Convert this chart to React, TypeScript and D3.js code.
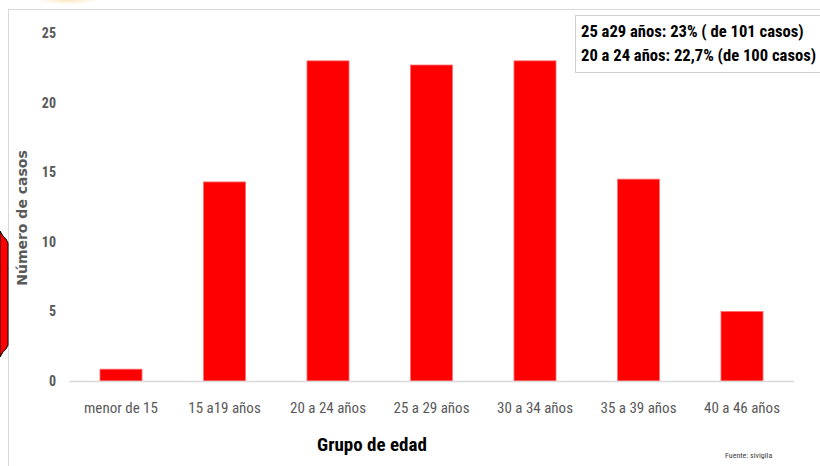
import React from "react";
import * as d3 from "d3";

const categories = ["menor de 15", "15 a19 años", "20 a 24 años", "25 a 29 años", "30 a 34 años", "35 a 39 años", "40 a 46 años"];
const values = [0.85, 14.3, 23, 22.7, 23, 14.5, 5];
const yTicks = [0, 5, 10, 15, 20, 25];
const noteLines = ["25 a29 años: 23% ( de 101 casos)", "20 a 24 años: 22,7% (de 100 casos)"];

const W = 820;
const H = 466;
const FONT = "'Liberation Sans Narrow', 'Roboto Condensed', 'Open Sans', sans-serif";

export default function App() {
  const x = d3.scaleBand<string>().domain(categories).range([69.25, 793.75]).paddingInner(0.594).paddingOuter(0.297);
  const y = d3.scaleLinear().domain([0, 25]).range([381, 33]);
  return (
    <svg width={W} height={H} style={{ position: "absolute", left: 0, top: 0, background: "#fff" }}>
      <defs>
        <radialGradient id="glow">
          <stop offset="0%" stopColor="#fbd38a" stopOpacity={0.9} />
          <stop offset="100%" stopColor="#fde9c0" stopOpacity={0} />
        </radialGradient>
      </defs>
      <ellipse cx={68} cy={-2} rx={34} ry={7} fill="url(#glow)" />
      {/* frame */}
      <line x1={8} x2={W} y1={9.5} y2={9.5} stroke="#d9d9d9" />
      <line x1={8.5} x2={8.5} y1={9} y2={H} stroke="#d9d9d9" />
      {/* left decoration */}
      <path d="M0,231 L3,236 L6,239 L8,243 L8,345 L6,349 L3,352 L0,357 Z" fill="#ff0000" stroke="#000" strokeWidth={1} />
      {/* y tick labels */}
      {yTicks.map((t) => (
        <text key={t} x={56} y={y(t)} dy="0.35em" textAnchor="end" fontFamily={FONT} fontWeight="bold" fontSize={14} fill="#595959">
          {t}
        </text>
      ))}
      {/* bars */}
      {categories.map((c, i) => (
        <rect key={c} x={x(c)} y={y(values[i])} width={x.bandwidth()} height={y(0) - y(values[i])} fill="#ff0000" stroke="#ff7070" strokeWidth={0.8} />
      ))}
      {/* axis line */}
      <line x1={69} x2={794} y1={381.5} y2={381.5} stroke="#d9d9d9" strokeWidth={1.5} />
      {/* x labels */}
      {categories.map((c) => (
        <text key={c} x={(x(c) as number) + x.bandwidth() / 2} y={413} textAnchor="middle" fontFamily={FONT} fontSize={15} fill="#595959">
          {c}
        </text>
      ))}
      <text x={372} y={451} textAnchor="middle" fontFamily={FONT} fontWeight="bold" fontSize={19} fill="#000">
        Grupo de edad
      </text>
      <text transform="translate(27,218) rotate(-90)" textAnchor="middle" fontFamily="'DejaVu Sans', sans-serif" fontWeight="bold" fontSize={14} fill="#595959">
        Número de casos
      </text>
      {/* note box */}
      <rect x={575.5} y={15.5} width={260} height={57} fill="#fff" stroke="#d0d0d0" />
      {noteLines.map((l, i) => (
        <text key={i} x={581} y={37 + i * 24} fontFamily={FONT} fontWeight="bold" fontSize={16.6} fill="#000">
          {l}
        </text>
      ))}
      <text x={725} y={458} fontFamily={FONT} fontSize={8} fill="#404040">
        Fuente: sivigila
      </text>
    </svg>
  );
}
